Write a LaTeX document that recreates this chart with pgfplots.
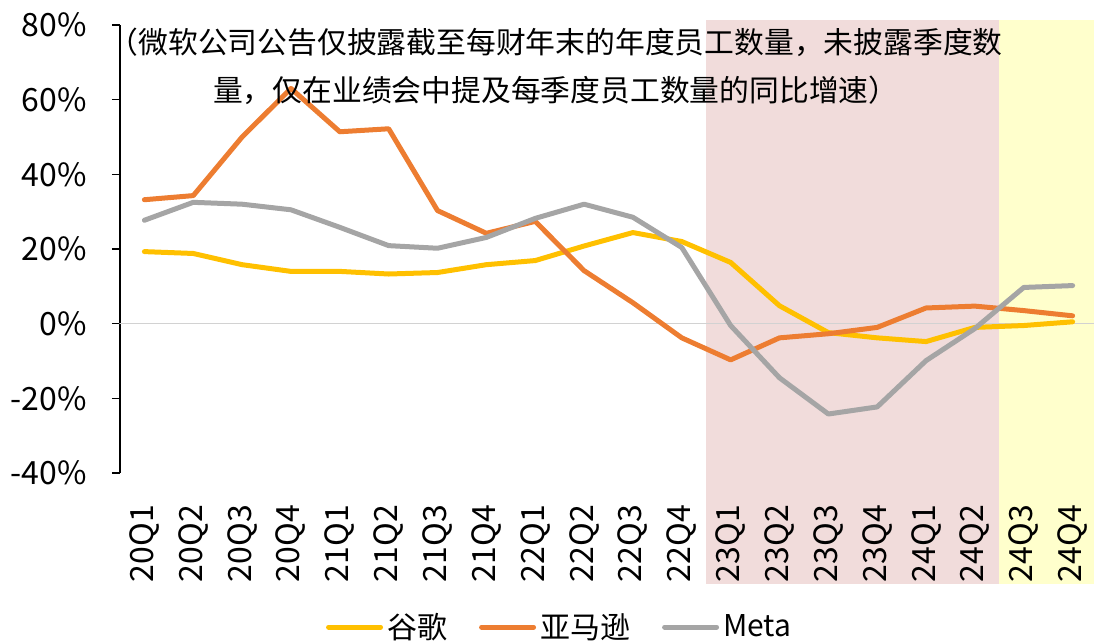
\documentclass[border=0pt]{standalone}
\usepackage{fontspec}
\setmainfont{Noto Sans CJK SC}
\usepackage{pgfplots}
\pgfplotsset{compat=1.18}
\definecolor{ggl}{HTML}{FFC000}
\definecolor{amz}{HTML}{ED7D31}
\definecolor{meta}{HTML}{A5A5A5}
\definecolor{bandA}{HTML}{F1DCDB}
\definecolor{bandB}{HTML}{FFFFCC}

\begin{document}
\begin{tikzpicture}
\begin{axis}[
  set layers,
  scale only axis,
  width=488.5pt, height=224pt,
  xmin=-0.5, xmax=19.5, ymin=-40, ymax=80,
  clip=false,
  axis x line*=bottom, axis y line*=left,
  x axis line style={draw=none},
  y axis line style={black, line width=0.8pt},
  xtick={0,...,19},
  xticklabels={20Q1,20Q2,20Q3,20Q4,21Q1,21Q2,21Q3,21Q4,22Q1,22Q2,22Q3,22Q4,23Q1,23Q2,23Q3,23Q4,24Q1,24Q2,24Q3,24Q4},
  xtick style={draw=none},
  % rotated frame: negative xshift moves the labels down the page
  xticklabel style={rotate=90, anchor=east, xshift=-8.5pt},
  ytick={-40,-20,0,20,40,60,80},
  yticklabels={-40\%,-20\%,0\%,20\%,40\%,60\%,80\%},
  ytick style={black, line width=0.8pt},
  yticklabel style={xshift=-9pt},
  tick align=outside, major tick length=4pt,
  tick label style={font=\fontsize{16}{19}\selectfont},
  legend style={at={(0.451,-0.344)}, anchor=center, draw=none, fill=none,
    font=\fontsize{15}{18}\selectfont,
    /tikz/every even column/.append style={column sep=14pt}},
  legend columns=-1,
  legend image code/.code={\draw[#1] (0pt,0pt) -- (26pt,0pt);},
  every axis plot/.append style={line width=2.5pt, line join=round, line cap=round},
]
% shaded periods, kept behind ticks and labels
\addplot[on layer=axis background, fill=bandA, draw=none, line width=0pt, forget plot] coordinates {(11.5,-69.8) (11.5,81.3) (17.5,81.3) (17.5,-69.8)};
\addplot[on layer=axis background, fill=bandB, draw=none, line width=0pt, forget plot] coordinates {(17.5,-69.8) (17.5,81.3) (19.6,81.3) (19.6,-69.8)};
% zero line
\addplot[gray!35, line width=0.8pt, forget plot] coordinates {(-0.5,0) (19.6,0)};

\addplot[ggl] coordinates {
  (0,19.3) (1,18.8) (2,15.8) (3,14.0) (4,14.0) (5,13.3) (6,13.7) (7,15.8) (8,16.9) (9,20.8)
  (10,24.4) (11,22.0) (12,16.4) (13,4.8) (14,-2.4) (15,-3.8) (16,-4.8) (17,-1.0) (18,-0.5) (19,0.5)};
\addlegendentry{谷歌}
\addplot[amz] coordinates {
  (0,33.2) (1,34.3) (2,50.0) (3,63.0) (4,51.4) (5,52.2) (6,30.3) (7,24.2) (8,27.4) (9,14.2)
  (10,5.6) (11,-3.8) (12,-9.7) (13,-3.8) (14,-2.7) (15,-1.0) (16,4.2) (17,4.7) (18,3.5) (19,2.1)};
\addlegendentry{亚马逊}
\addplot[meta] coordinates {
  (0,27.7) (1,32.5) (2,32.0) (3,30.5) (4,25.8) (5,20.9) (6,20.2) (7,23.1) (8,28.2) (9,32.0)
  (10,28.5) (11,20.4) (12,-0.5) (13,-14.5) (14,-24.2) (15,-22.3) (16,-9.9) (17,-1.3) (18,9.7) (19,10.2)};
\addlegendentry{Meta}

\node[align=center, font=\fontsize{14.9}{24}\selectfont] at (axis cs:8.42,69)
  {（微软公司公告仅披露截至每财年末的年度员工数量，未披露季度数\\量，仅在业绩会中提及每季度员工数量的同比增速）};

\coordinate (BL) at (rel axis cs:-0.1228,-0.3772);
\coordinate (TR) at (rel axis cs:0.9969,1.0558);
\end{axis}
\pgfresetboundingbox
\path[use as bounding box] (BL) rectangle (TR);
\end{tikzpicture}
\end{document}
